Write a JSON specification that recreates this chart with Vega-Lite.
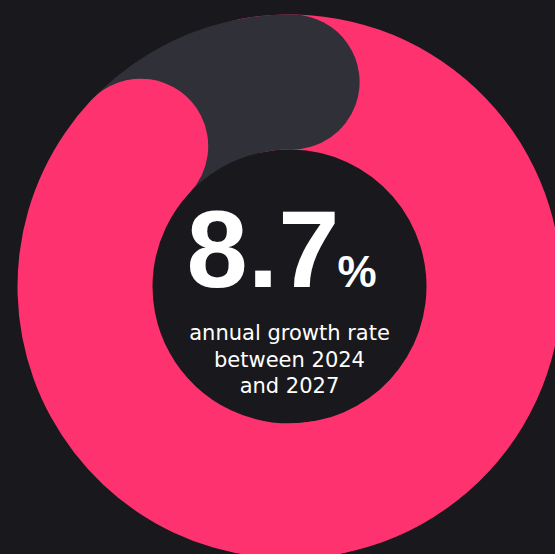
{
  "$schema": "https://vega.github.io/schema/vega-lite/v6.json",
  "autosize": "none",
  "width": 555,
  "height": 554,
  "padding": {"left": 12, "top": 9.5, "right": 0, "bottom": 0},
  "background": "#19191d",
  "config": {"view": {"stroke": null}},
  "layer": [
    {
      "data": {"values": [
        {"segment": "growth", "start": -30, "end": 200},
        {"segment": "other", "start": -90, "end": 20},
        {"segment": "growth", "start": 150, "end": 332.6}
      ]},
      "mark": {"type": "arc", "radius": 272, "radius2": 137, "cornerRadius": 67.5},
      "encoding": {
        "theta": {"field": "start", "type": "quantitative", "stack": null,
          "scale": {"domain": [0, 360], "range": [0, 6.283185307179586], "zero": false, "nice": false}},
        "theta2": {"field": "end"},
        "color": {"field": "segment", "type": "nominal", "legend": null,
          "scale": {"domain": ["growth", "other"], "range": ["#ff3270", "#2f3038"]}}
      }
    },
    {
      "data": {"values": [{"label": "8.7"}]},
      "mark": {"type": "text", "align": "right", "baseline": "alphabetic", "dx": 50, "dy": 0.5,
        "font": "Liberation Sans", "fontWeight": "bold", "fontSize": 110, "color": "#ffffff"},
      "encoding": {"text": {"field": "label"}}
    },
    {
      "data": {"values": [{"label": "%"}]},
      "mark": {"type": "text", "align": "left", "baseline": "alphabetic", "dx": 48, "dy": 0.5,
        "font": "Liberation Sans", "fontWeight": "bold", "fontSize": 44, "color": "#ffffff"},
      "encoding": {"text": {"field": "label"}}
    },
    {
      "data": {"values": [{"label": ["annual growth rate", "between 2024", "and 2027"]}]},
      "mark": {"type": "text", "align": "center", "baseline": "alphabetic", "dy": 53.5, "lineHeight": 26.5,
        "font": "DejaVu Sans", "fontWeight": "normal", "fontSize": 21, "color": "#ffffff"},
      "encoding": {"text": {"field": "label"}}
    }
  ]
}
